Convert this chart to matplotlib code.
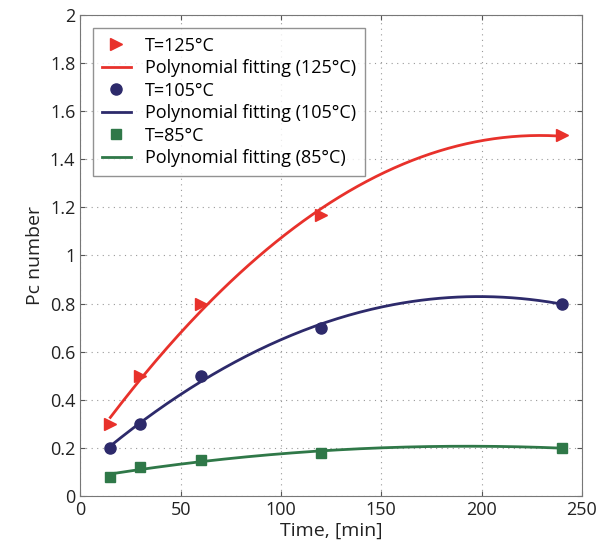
import matplotlib.pyplot as plt
import numpy as np

plt.rcParams['font.family'] = ['Open Sans', 'DejaVu Sans']

time_min = [15, 30, 60, 120, 240]
pc_125 = [0.30, 0.50, 0.80, 1.17, 1.50]
pc_105 = [0.20, 0.30, 0.50, 0.70, 0.80]
pc_85 = [0.08, 0.12, 0.15, 0.18, 0.20]

series = [
    ('125', pc_125, '#e8312b', '>', 9),
    ('105', pc_105, '#2d2a6b', 'o', 8),
    ('85', pc_85, '#2f7848', 's', 7),
]

fig = plt.figure(figsize=(6.08, 5.56), dpi=100)
ax = fig.add_axes([0.132, 0.108, 0.825, 0.865])

t_fit = np.linspace(min(time_min), max(time_min), 200)
for temp, pc, color, marker, ms in series:
    coef = np.polyfit(time_min, pc, 2)
    ax.plot(time_min, pc, linestyle='none', marker=marker, color=color,
            markersize=ms, label='T=%s\u00b0C' % temp)
    ax.plot(t_fit, np.polyval(coef, t_fit), color=color, lw=2,
            label='Polynomial fitting (%s\u00b0C)' % temp)

ax.set_xlim(0, 250)
ax.set_ylim(0, 2)
ax.set_xticks(np.arange(0, 251, 50))
ax.set_yticks(np.arange(0, 2.01, 0.2))
ax.set_yticklabels(['0', '0.2', '0.4', '0.6', '0.8', '1', '1.2', '1.4', '1.6', '1.8', '2'])
ax.grid(True, linestyle=(0, (1, 4)), color='#999999', lw=0.8)
ax.tick_params(direction='in', top=True, right=True, labelsize=13, colors='#222222')
ax.tick_params(axis='both', color='#555555')
for s in ax.spines.values():
    s.set_color('#777777')
ax.set_xlabel('Time, [min]', fontsize=14, color='#222222', labelpad=2)
ax.set_ylabel('Pc number', fontsize=14, color='#222222')

leg = ax.legend(loc='upper left', fontsize=13, fancybox=False, edgecolor='#777777',
                borderaxespad=0.7, handlelength=1.6, labelspacing=0.25,
                borderpad=0.5)
leg.get_frame().set_linewidth(1.0)

fig.savefig('out.png', dpi=100)
